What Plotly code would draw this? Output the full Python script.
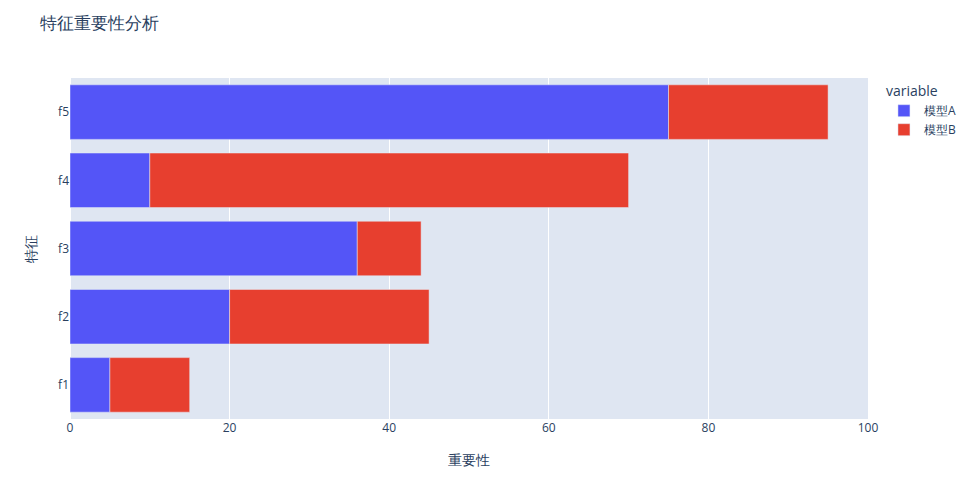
import plotly.express as px
import pandas as pd

features = ["f1", "f2", "f3", "f4", "f5"]
model_a = [5, 20, 36, 10, 75]
model_b = [10, 25, 8, 60, 20]

data = pd.DataFrame({"特征": features, "模型A": model_a, "模型B": model_b})
fig = px.bar(data, y="特征", x=["模型A", "模型B"], orientation="h",
             title="特征重要性分析",
             color_discrete_sequence=["#5455F7", "#E73F2F"])
fig.update_layout(width=974, height=484,
                  margin=dict(l=62, r=114, t=70, b=73),
                  plot_bgcolor="#DFE6F2",
                  title=dict(x=0.033, y=0.969, yanchor="middle"),
                  xaxis_title="重要性", yaxis_title="特征")
fig.update_xaxes(range=[0, 100], title_standoff=20)
fig.update_yaxes(title_standoff=18)
fig.write_html("out.html")
